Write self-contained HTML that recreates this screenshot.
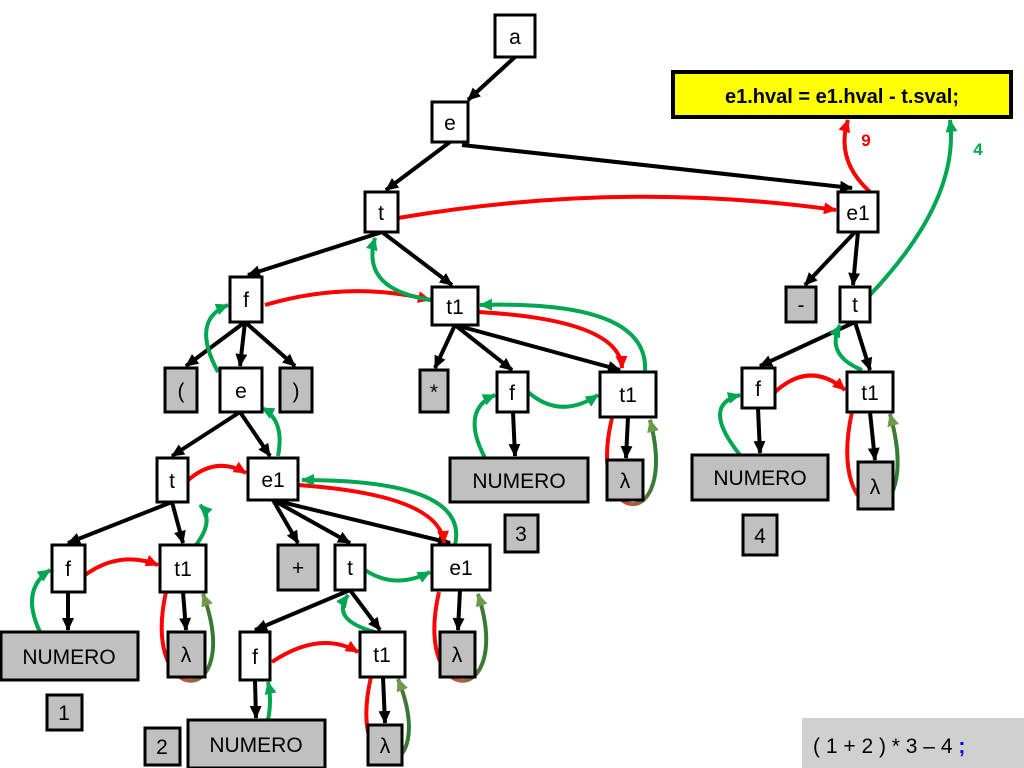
<!DOCTYPE html>
<html><head><meta charset="utf-8"><style>
html,body{margin:0;padding:0;background:#fff;}
svg{display:block;font-family:"Liberation Sans",sans-serif;}
</style></head><body>
<svg width="1024" height="768" viewBox="0 0 1024 768" xmlns="http://www.w3.org/2000/svg">
<defs>
<marker id="mk" markerUnits="userSpaceOnUse" markerWidth="14" markerHeight="14" refX="12" refY="7" orient="auto"><path d="M0,1 L13,7 L0,13 Z" fill="#000"/></marker>
<marker id="mr" markerUnits="userSpaceOnUse" markerWidth="14" markerHeight="14" refX="12" refY="7" orient="auto"><path d="M0,1 L13,7 L0,13 Z" fill="#f00"/></marker>
<marker id="mg" markerUnits="userSpaceOnUse" markerWidth="14" markerHeight="14" refX="12" refY="7" orient="auto"><path d="M0,1 L13,7 L0,13 Z" fill="#00a651"/></marker>
<marker id="mo" markerUnits="userSpaceOnUse" markerWidth="14" markerHeight="14" refX="12" refY="7" orient="auto"><path d="M0,1 L13,7 L0,13 Z" fill="#6a9a4a"/></marker>
<linearGradient id="lg" x1="0" y1="0" x2="1" y2="0"><stop offset="0" stop-color="#f00"/><stop offset="0.5" stop-color="#b06040"/><stop offset="1" stop-color="#2e7d32"/></linearGradient>
</defs>

<!-- black edges -->
<g stroke="#000" stroke-width="4" fill="none" marker-end="url(#mk)">
<line x1="515" y1="57" x2="468" y2="100"/>
<line x1="450" y1="142" x2="386" y2="190"/>
<line x1="462" y1="145" x2="852" y2="188"/>
<line x1="382" y1="232" x2="248" y2="275"/>
<line x1="382" y1="232" x2="452" y2="285"/>
<line x1="855" y1="232" x2="805" y2="285"/>
<line x1="858" y1="232" x2="853" y2="285"/>
<line x1="245" y1="322" x2="186" y2="366"/>
<line x1="245" y1="322" x2="240" y2="366"/>
<line x1="245" y1="322" x2="295" y2="366"/>
<line x1="455" y1="325" x2="435" y2="368"/>
<line x1="455" y1="325" x2="512" y2="370"/>
<line x1="455" y1="325" x2="620" y2="370"/>
<line x1="855" y1="322" x2="760" y2="366"/>
<line x1="855" y1="322" x2="870" y2="370"/>
<line x1="240" y1="412" x2="172" y2="456"/>
<line x1="240" y1="412" x2="270" y2="456"/>
<line x1="513" y1="412" x2="515" y2="456"/>
<line x1="628" y1="417" x2="626" y2="458"/>
<line x1="758" y1="408" x2="760" y2="453"/>
<line x1="870" y1="412" x2="875" y2="460"/>
<line x1="172" y1="502" x2="68" y2="543"/>
<line x1="172" y1="502" x2="183" y2="543"/>
<line x1="273" y1="500" x2="298" y2="543"/>
<line x1="273" y1="500" x2="350" y2="543"/>
<line x1="273" y1="500" x2="450" y2="543"/>
<line x1="68" y1="592" x2="68" y2="630"/>
<line x1="183" y1="592" x2="186" y2="630"/>
<line x1="460" y1="590" x2="458" y2="630"/>
<line x1="350" y1="590" x2="255" y2="630"/>
<line x1="350" y1="590" x2="380" y2="630"/>
<line x1="255" y1="680" x2="256" y2="718"/>
<line x1="383" y1="677" x2="385" y2="723"/>
</g>

<!-- red curves -->
<g stroke="#f00" stroke-width="4" fill="none" marker-end="url(#mr)">
<path d="M398,218 Q620,180 836,210"/>
<path d="M265,305 Q350,280 430,300"/>
<path d="M478,312 Q620,320 622,368"/>
<path d="M775,392 Q810,360 845,390"/>
<path d="M186,482 Q215,455 246,473"/>
<path d="M298,485 Q440,495 444,543"/>
<path d="M85,575 Q120,550 158,565"/>
<path d="M272,662 Q320,630 358,652"/>
<path d="M870,192 Q835,160 848,120"/>
</g>

<!-- green curves -->
<g stroke="#00a651" stroke-width="4" fill="none" marker-end="url(#mg)">
<path d="M432,300 Q360,290 375,238"/>
<path d="M218,372 Q190,320 228,305"/>
<path d="M278,456 Q285,420 262,408"/>
<path d="M645,372 Q650,300 480,305"/>
<path d="M485,458 Q460,410 495,395"/>
<path d="M528,392 Q560,420 598,395"/>
<path d="M862,370 Q825,355 840,325"/>
<path d="M740,455 Q700,405 740,395"/>
<path d="M870,295 Q960,200 950,120"/>
<path d="M196,545 Q215,520 200,505"/>
<path d="M40,632 Q20,590 50,570"/>
<path d="M455,545 Q470,480 302,480"/>
<path d="M365,570 Q395,590 430,572"/>
<path d="M375,632 Q330,620 348,595"/>
<path d="M268,720 Q272,700 268,682"/>
</g>

<!-- lambda loops -->
<g stroke="url(#lg)" stroke-width="4" fill="none" marker-end="url(#mo)">
<path d="M612,418 C585,530 680,535 650,420"/>
<path d="M852,412 C825,535 925,540 890,414"/>
<path d="M166,592 C140,710 245,710 203,594"/>
<path d="M439,592 C412,710 515,710 478,594"/>
<path d="M371,677 C345,790 440,785 398,679"/>
</g>

<!-- nodes -->
<g stroke="#000" stroke-width="3" font-size="21" text-anchor="middle">
<g fill="#fff">
<rect x="495" y="15" width="40" height="42"/>
<rect x="432" y="102" width="36" height="40"/>
<rect x="365" y="192" width="33" height="40"/>
<rect x="838" y="192" width="40" height="40"/>
<rect x="230" y="277" width="32" height="45"/>
<rect x="432" y="287" width="46" height="38"/>
<rect x="840" y="287" width="30" height="35"/>
<rect x="220" y="368" width="42" height="44"/>
<rect x="497" y="372" width="31" height="40"/>
<rect x="600" y="372" width="56" height="45"/>
<rect x="742" y="368" width="33" height="40"/>
<rect x="847" y="372" width="46" height="40"/>
<rect x="157" y="458" width="31" height="44"/>
<rect x="248" y="458" width="50" height="42"/>
<rect x="52" y="545" width="33" height="47"/>
<rect x="160" y="545" width="46" height="47"/>
<rect x="335" y="545" width="30" height="45"/>
<rect x="432" y="545" width="58" height="45"/>
<rect x="240" y="632" width="30" height="48"/>
<rect x="360" y="632" width="45" height="45"/>
</g>
<g fill="#c0c0c0">
<rect x="786" y="287" width="30" height="35"/>
<rect x="165" y="368" width="32" height="44"/>
<rect x="280" y="368" width="32" height="44"/>
<rect x="420" y="370" width="28" height="42"/>
<rect x="450" y="458" width="138" height="44"/>
<rect x="607" y="460" width="36" height="40"/>
<rect x="692" y="455" width="136" height="45"/>
<rect x="858" y="462" width="35" height="47"/>
<rect x="505" y="515" width="33" height="37"/>
<rect x="743" y="515" width="34" height="40"/>
<rect x="278" y="545" width="40" height="45"/>
<rect x="1" y="632" width="137" height="48"/>
<rect x="168" y="632" width="37" height="45"/>
<rect x="440" y="632" width="35" height="45"/>
<rect x="47" y="695" width="35" height="35"/>
<rect x="145" y="728" width="35" height="37"/>
<rect x="188" y="720" width="137" height="48"/>
<rect x="368" y="725" width="34" height="40"/>
</g>
<g stroke="none" fill="#000">
<text x="515" y="44">a</text>
<text x="450" y="130">e</text>
<text x="381" y="220">t</text>
<text x="858" y="220">e1</text>
<text x="246" y="307">f</text>
<text x="455" y="314">t1</text>
<text x="801" y="312">-</text>
<text x="855" y="312">t</text>
<text x="181" y="398">(</text>
<text x="241" y="398">e</text>
<text x="296" y="398">)</text>
<text x="434" y="399">*</text>
<text x="512" y="400">f</text>
<text x="628" y="402">t1</text>
<text x="758" y="396">f</text>
<text x="870" y="400">t1</text>
<text x="172" y="488">t</text>
<text x="273" y="487">e1</text>
<text x="519" y="488">NUMERO</text>
<text x="625" y="488">λ</text>
<text x="760" y="485">NUMERO</text>
<text x="875" y="494">λ</text>
<text x="521" y="541">3</text>
<text x="760" y="543">4</text>
<text x="68" y="576">f</text>
<text x="183" y="576">t1</text>
<text x="298" y="575">+</text>
<text x="350" y="575">t</text>
<text x="461" y="575">e1</text>
<text x="255" y="664">f</text>
<text x="382" y="662">t1</text>
<text x="69" y="664">NUMERO</text>
<text x="186" y="662">λ</text>
<text x="457" y="662">λ</text>
<text x="64" y="720">1</text>
<text x="162" y="754">2</text>
<text x="256" y="752">NUMERO</text>
<text x="385" y="753">λ</text>
</g>
</g>

<!-- yellow box -->
<rect x="673" y="72" width="338" height="45" fill="#ffff00" stroke="#000" stroke-width="4"/>
<text x="842" y="103" font-size="20" font-weight="bold" text-anchor="middle" fill="#000">e1.hval = e1.hval - t.sval;</text>
<text x="866" y="146" font-size="17" font-weight="bold" fill="#e00" text-anchor="middle">9</text>
<text x="978" y="155" font-size="17" font-weight="bold" fill="#00a651" text-anchor="middle">4</text>

<!-- bottom right -->
<rect x="802" y="718" width="222" height="50" fill="#d0d0d0"/>
<text x="813" y="753" font-size="21" fill="#000">( 1 + 2 ) * 3 – 4 <tspan fill="#0000ff" font-weight="bold">;</tspan></text>
</svg>
</body></html>
